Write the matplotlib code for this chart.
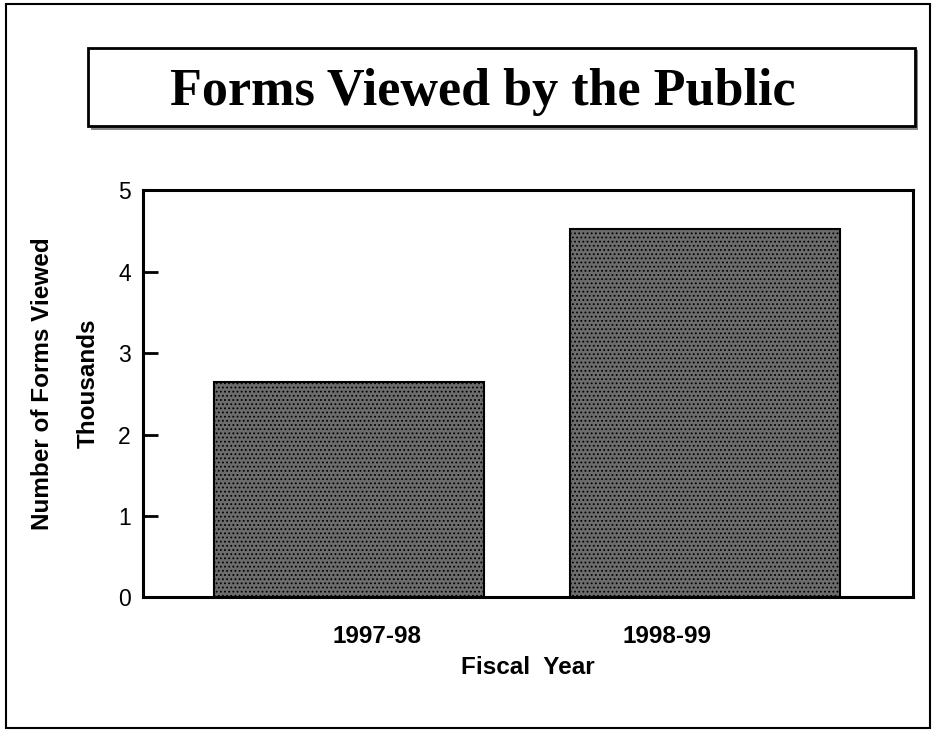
import matplotlib.pyplot as plt
import matplotlib.transforms as mtransforms
from matplotlib.patches import Rectangle

# data
years = ['1997-98', '1998-99']
forms_thousands = [2.65, 4.52]
y_ticks = [0, 1, 2, 3, 4, 5]

plt.rcParams['hatch.color'] = '#cccccc'
plt.rcParams['hatch.linewidth'] = 0.8

fig = plt.figure(figsize=(9.36, 7.32), dpi=100)

# outer border around the whole page
fig.patches.append(Rectangle((0.006, 0.006), 0.988, 0.988, transform=fig.transFigure,
                             fill=False, edgecolor='black', lw=1.5))

# title box with a grey shadow
fig.patches.append(Rectangle((0.097, 0.822), 0.884, 0.11, transform=fig.transFigure,
                             facecolor='#888888', edgecolor='none'))
fig.patches.append(Rectangle((0.094, 0.828), 0.884, 0.106, transform=fig.transFigure,
                             facecolor='white', edgecolor='black', lw=2))
fig.text(0.516, 0.874, 'Forms Viewed by the Public', ha='center', va='center',
         family='Liberation Serif', weight='bold', fontsize=37.5)

ax = fig.add_axes([0.153, 0.184, 0.822, 0.556])
x = list(range(len(years)))
ax.bar(x, forms_thousands, width=0.76, color='#6c6c6c', edgecolor='black',
       lw=1.5, hatch='....')

ax.set_xlim(-0.58, 1.585)
ax.set_ylim(0, 5)
ax.set_yticks(y_ticks)
ax.tick_params(axis='y', direction='in', length=11, width=2, labelsize=16.5, pad=9)
ax.set_xticks(x)
ax.set_xticklabels(years, fontsize=17.5, weight='bold',
                   family='Liberation Sans')
ax.tick_params(axis='x', length=0, pad=20)
for lab in ax.get_yticklabels():
    lab.set_family('Liberation Sans')

# tick labels sit a little inward from the bar centres
shifts = [28, -38]
for lab, dx in zip(ax.get_xticklabels(), shifts):
    lab.set_transform(lab.get_transform() +
                      mtransforms.ScaledTranslation(dx / 100, 0, fig.dpi_scale_trans))

for sp in ax.spines.values():
    sp.set_linewidth(2.2)

ax.set_xlabel('Fiscal  Year', fontsize=17.5, weight='bold', family='Liberation Sans',
              labelpad=6)
ax.set_ylabel('Number of Forms Viewed\nThousands', fontsize=17.5, weight='bold',
              family='Liberation Sans', linespacing=2.3)
ax.yaxis.set_label_coords(-0.056, 0.525)

fig.savefig('out.png', dpi=100)
